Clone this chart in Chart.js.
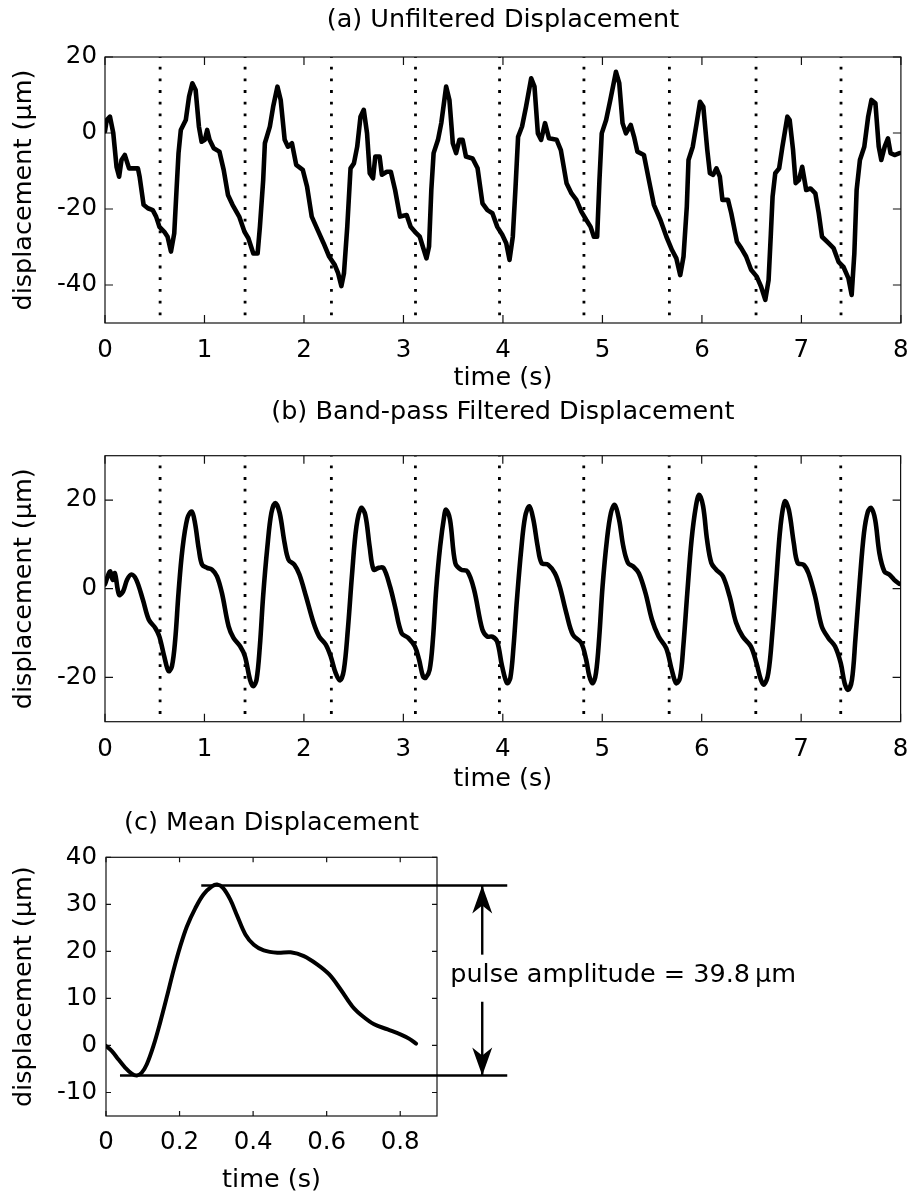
<!DOCTYPE html>
<html>
<head>
<meta charset="utf-8">
<script src="https://cdn.jsdelivr.net/npm/chart.js@4.4.1/dist/chart.umd.min.js"></script>
<style>
  html, body { margin: 0; padding: 0; background: #fff; }
  #page { position: relative; width: 922px; height: 1198px; }
  canvas { position: absolute; left: 0; }
</style>
</head>
<body>
<div id="page">
  <canvas id="chartA" width="922" height="395" style="top:0px"></canvas>
  <canvas id="chartB" width="922" height="400" style="top:395px"></canvas>
  <canvas id="chartC" width="922" height="403" style="top:795px"></canvas>
</div>
<script>
// (a) unfiltered displacement
const timeA = [0.0, 0.017, 0.05, 0.083, 0.116, 0.142, 0.166, 0.199, 0.242, 0.265, 0.331, 0.348, 0.388, 0.431, 0.48, 0.514, 0.547, 0.596, 0.629, 0.663,
  0.696, 0.719, 0.739, 0.762, 0.812, 0.845, 0.878, 0.911, 0.944, 0.971, 1.004, 1.027, 1.051, 1.093, 1.15, 1.193, 1.236, 1.282, 1.349, 1.402,
  1.441, 1.491, 1.534, 1.557, 1.59, 1.607, 1.657, 1.69, 1.733, 1.766, 1.806, 1.839, 1.879, 1.922, 1.988, 2.031, 2.078, 2.137, 2.197, 2.253,
  2.309, 2.343, 2.376, 2.402, 2.435, 2.468, 2.502, 2.535, 2.568, 2.601, 2.634, 2.661, 2.694, 2.717, 2.76, 2.783, 2.833, 2.873, 2.916, 2.965,
  3.032, 3.072, 3.115, 3.164, 3.231, 3.257, 3.28, 3.303, 3.347, 3.38, 3.429, 3.462, 3.496, 3.529, 3.562, 3.595, 3.628, 3.695, 3.745, 3.794,
  3.844, 3.894, 3.943, 3.993, 4.033, 4.066, 4.099, 4.125, 4.152, 4.192, 4.232, 4.284, 4.317, 4.351, 4.384, 4.423, 4.463, 4.54, 4.582, 4.639,
  4.689, 4.738, 4.788, 4.838, 4.881, 4.914, 4.947, 4.97, 4.993, 5.037, 5.079, 5.136, 5.169, 5.202, 5.236, 5.285, 5.318, 5.351, 5.417, 5.467,
  5.517, 5.583, 5.643, 5.699, 5.743, 5.782, 5.815, 5.848, 5.865, 5.908, 5.947, 5.981, 6.014, 6.054, 6.08, 6.113, 6.146, 6.18, 6.206, 6.262,
  6.295, 6.352, 6.395, 6.444, 6.494, 6.551, 6.594, 6.637, 6.67, 6.693, 6.71, 6.737, 6.776, 6.809, 6.859, 6.882, 6.916, 6.942, 6.975, 7.008,
  7.048, 7.091, 7.14, 7.174, 7.207, 7.273, 7.323, 7.373, 7.422, 7.472, 7.505, 7.532, 7.555, 7.588, 7.632, 7.671, 7.704, 7.744, 7.777, 7.803,
  7.837, 7.87, 7.896, 7.936, 7.986];
const dispA = [0.5, 3.4, 4.3, 0, -8.9, -11.5, -7.1, -5.8, -9.3, -9.3, -9.3, -11.5, -18.9, -19.8, -20.3, -22, -24.7, -26, -27.3, -31.2,
  -26.4, -15, -5.3, 0.8, 3.4, 9.6, 13.1, 11.3, 1.7, -2.3, -1.8, 0.8, -1.8, -4, -4.9, -9.7, -16.3, -18.9, -22, -26,
  -27.7, -31.7, -31.7, -24.7, -12.4, -2.7, 1.7, 6.9, 12.2, 8.7, -1.8, -3.6, -2.7, -8.4, -9.7, -14.1, -22, -25.5, -29, -32.5,
  -34.7, -36.9, -40.3, -36.9, -24.7, -9.3, -8, -3.6, 4.3, 6.1, -0.1, -10.6, -11.9, -6.2, -6.2, -11, -10.2, -10.2, -15, -22,
  -21.6, -24.7, -26, -27.3, -33, -29.9, -15, -5.3, -1.8, 2.6, 12.2, 8.7, -2.7, -5.3, -1.8, -1.8, -6.2, -6.7, -9.3, -18.5,
  -20.3, -21.1, -24.7, -26.8, -29, -33.4, -27.3, -15, -1, 1.7, 6.9, 14.4, 12.2, -0.1, -1.8, 2.6, -1.4, -1.8, -4.5, -13.2,
  -15.9, -17.6, -20.7, -22.9, -24.7, -27.3, -27.3, -12.4, -0.1, 3.4, 8.7, 16.1, 13.1, 2.6, -0.1, 2.1, -1, -4.9, -5.8, -12.4,
  -18.9, -22.9, -27.3, -30.8, -33, -37.4, -32.5, -19.4, -7.1, -3.6, 2.6, 8.2, 6.9, -4.5, -10.6, -11, -9.3, -11.5, -17.6, -17.6,
  -21.1, -28.6, -30.3, -32.5, -36, -37.8, -40.4, -43.9, -38.7, -26.4, -16.8, -10.6, -9.3, -3.6, 4.3, 3.4, -4.5, -13.2, -12.4, -8.9,
  -15, -14.6, -15.9, -21.1, -27.3, -29, -30.3, -33.9, -35.2, -38.2, -42.6, -31.7, -15, -7.1, -3.6, 4.3, 8.7, 7.8, -3.6, -7.1,
  -3.6, -1.4, -5.3, -5.8, -5.3];

// (b) band-pass filtered displacement
const timeB = [0.0, 0.05, 0.076, 0.099, 0.142, 0.182, 0.222, 0.265, 0.315, 0.381, 0.441, 0.507, 0.547, 0.596, 0.639, 0.673, 0.706, 0.739, 0.778, 0.828,
  0.872, 0.905, 0.944, 0.977, 1.027, 1.077, 1.126, 1.176, 1.243, 1.292, 1.359, 1.408, 1.458, 1.491, 1.524, 1.557, 1.59, 1.633, 1.673, 1.713,
  1.756, 1.806, 1.846, 1.905, 1.955, 2.021, 2.097, 2.154, 2.22, 2.27, 2.319, 2.363, 2.402, 2.442, 2.485, 2.528, 2.575, 2.617, 2.661, 2.701,
  2.751, 2.8, 2.866, 2.916, 2.982, 3.049, 3.115, 3.158, 3.198, 3.224, 3.264, 3.297, 3.33, 3.37, 3.413, 3.429, 3.469, 3.522, 3.579, 3.645,
  3.711, 3.794, 3.844, 3.894, 3.943, 3.993, 4.043, 4.076, 4.108, 4.142, 4.185, 4.225, 4.267, 4.307, 4.351, 4.39, 4.456, 4.523, 4.572, 4.639,
  4.705, 4.788, 4.838, 4.871, 4.904, 4.937, 4.97, 5.003, 5.047, 5.087, 5.126, 5.169, 5.212, 5.259, 5.312, 5.368, 5.435, 5.5, 5.567, 5.643,
  5.699, 5.743, 5.782, 5.815, 5.855, 5.898, 5.942, 5.974, 6.014, 6.054, 6.097, 6.146, 6.213, 6.28, 6.346, 6.412, 6.494, 6.551, 6.594, 6.627,
  6.67, 6.71, 6.75, 6.792, 6.836, 6.876, 6.926, 6.965, 7.025, 7.074, 7.14, 7.207, 7.273, 7.34, 7.398, 7.437, 7.472, 7.511, 7.545, 7.588,
  7.632, 7.671, 7.704, 7.744, 7.787, 7.837, 7.886, 7.936, 7.986];
const dispB = [1.0, 3.9, 2, 3.5, -1.4, -0.6, 2, 3.2, 2, -2.5, -7, -8.9, -10.8, -15.3, -18.6, -17.5, -11.5, -1, 8.8, 15.9,
  17.4, 14.8, 8.8, 5.4, 4.7, 4.3, 2.8, -1, -8.5, -11.1, -13, -15.3, -20.5, -22, -20.5, -13, -1.7, 9.5, 17.1, 19.3,
  17.1, 10.3, 6.5, 5.4, 3.2, -1.7, -7.7, -10.8, -12.6, -15.3, -19, -20.7, -18.3, -9.2, 3.5, 14, 18.2, 16.7, 9.5, 4.3,
  4.7, 4.7, 0.5, -4, -10, -11.1, -13, -16, -19.8, -20.1, -18.3, -11.5, -0.2, 9.5, 16.7, 17.8, 15.6, 5.8, 4.3, 3.9,
  -0.2, -9.2, -10.8, -10.8, -11.9, -17.5, -21.3, -20.1, -13, -2.5, 8.8, 16.3, 18.6, 15.6, 9.5, 5.8, 5.4, 3.5, 0.5, -5.5,
  -10.4, -12.2, -16, -19.8, -21.3, -19, -10.8, 0.5, 11, 17.1, 18.9, 15.6, 9.5, 5.8, 5, 3.5, -1, -7, -10.8, -13.4,
  -18.3, -21.3, -20.1, -13, -1, 11, 18.6, 21.2, 18.6, 11, 5.8, 4.3, 2.8, -1.7, -7.7, -10.8, -13, -16.8, -20.5, -21.6,
  -19, -10, 2, 14, 19.7, 17.8, 10.3, 5.8, 5.4, 3.5, -1.7, -8.5, -11.1, -13, -16.8, -21.3, -22.8, -20.5, -11.5, 1.3,
  12.6, 17.4, 18.2, 15.6, 8, 3.9, 3.2, 2, 1.1];

// dotted pulse markers (s), same in (a) and (b)
const markerTimes = [0.554, 1.408, 2.276, 3.121, 3.966, 4.814, 5.673, 6.544, 7.398];

// (c) mean displacement
const timeC = [0.0, 0.016, 0.034, 0.052, 0.07, 0.084, 0.097, 0.111, 0.129, 0.147, 0.166, 0.184, 0.202, 0.22, 0.243, 0.265, 0.288, 0.302, 0.318, 0.338,
  0.357, 0.379, 0.402, 0.429, 0.466, 0.502, 0.538, 0.575, 0.607, 0.638, 0.67, 0.698, 0.729, 0.766, 0.802, 0.825, 0.843];
const dispC = [-0.1, -1.2, -3, -4.7, -6, -6.4, -5.8, -4, -0.1, 4.8, 10.5, 16.1, 21.1, 25.3, 29.2, 32.1, 33.8, 34.2, 33.5, 31,
  27.5, 23.6, 21.4, 20.2, 19.7, 19.8, 19, 17.2, 15.1, 11.9, 8.3, 6.2, 4.5, 3.4, 2.3, 1.4, 0.4];

// tick values
const ticksTime = [0, 1, 2, 3, 4, 5, 6, 7, 8];
const ticksAY = [-40, -20, 0, 20];
const ticksBY = [-20, 0, 20];
const ticksCX = [0, 0.2, 0.4, 0.6, 0.8];
const ticksCY = [-10, 0, 10, 20, 30, 40];

// amplitude markers in (c)
const refTopX = [0.259, 1.091];
const refTopY = [34.0, 34.0];
const refBotX = [0.038, 1.091];
const refBotY = [-6.4, -6.4];
const arrowT = 1.023;
const arrowUpY = [19.3, 34.0];
const arrowDownY = [9.3, -6.4];
const ampLabel = 'pulse amplitude = 39.8\u2009\u03bcm';
const ampLabelPos = [0.936, 13.4];

const FONT = "'DejaVu Sans', 'Liberation Sans', sans-serif";
const yLabel = 'displacement (\u03bcm)';

function pts(xs, ys) {
  return xs.map((x, i) => ({x: x, y: ys[i]}));
}

// box round the axes with inward ticks on all four sides
const frameTicks = {
  id: 'frameTicks',
  beforeDatasetsDraw(chart, args, opts) {
    const {ctx, chartArea: a, scales: {x, y}} = chart;
    const len = opts.len || 8;
    ctx.save();
    ctx.strokeStyle = '#111';
    ctx.lineWidth = 1.2;
    ctx.strokeRect(a.left, a.top, a.right - a.left, a.bottom - a.top);
    ctx.beginPath();
    x.ticks.forEach(t => {
      const px = x.getPixelForValue(t.value);
      ctx.moveTo(px, a.bottom); ctx.lineTo(px, a.bottom - len);
      ctx.moveTo(px, a.top); ctx.lineTo(px, a.top + len);
    });
    y.ticks.forEach(t => {
      const py = y.getPixelForValue(t.value);
      ctx.moveTo(a.left, py); ctx.lineTo(a.left + len, py);
      ctx.moveTo(a.right, py); ctx.lineTo(a.right - len, py);
    });
    ctx.stroke();
    ctx.restore();
  }
};

// arrow heads and the amplitude label for panel (c)
const ampNotes = {
  id: 'ampNotes',
  afterDatasetsDraw(chart) {
    const {ctx, scales: {x, y}} = chart;
    const ax = x.getPixelForValue(arrowT);
    function head(tipY, dir) {
      ctx.beginPath();
      ctx.moveTo(ax, tipY);
      ctx.lineTo(ax - 10, tipY + dir * 28);
      ctx.lineTo(ax, tipY + dir * 20);
      ctx.lineTo(ax + 10, tipY + dir * 28);
      ctx.closePath();
      ctx.fill();
    }
    ctx.save();
    ctx.fillStyle = '#000';
    head(y.getPixelForValue(arrowUpY[1]), 1);
    head(y.getPixelForValue(arrowDownY[1]), -1);
    ctx.font = '25.5px ' + FONT;
    ctx.textAlign = 'left';
    ctx.textBaseline = 'alphabetic';
    ctx.fillText(ampLabel, x.getPixelForValue(ampLabelPos[0]), y.getPixelForValue(ampLabelPos[1]));
    ctx.restore();
  }
};

function markerSets(yMin, yMax) {
  return markerTimes.map(t => ({
    data: [{x: t, y: yMax}, {x: t, y: yMin}],
    borderColor: '#000',
    borderWidth: 2.8,
    borderDash: [2.8, 8.9],
    borderDashOffset: 2,
    pointRadius: 0,
    order: 2
  }));
}

function makeChart(id, cfg) {
  return new Chart(document.getElementById(id), {
    type: 'line',
    data: {datasets: cfg.datasets},
    plugins: cfg.plugins,
    options: {
      responsive: false,
      animation: false,
      devicePixelRatio: 1,
      layout: {padding: {left: 0, right: cfg.padRight, top: 0, bottom: 0}},
      plugins: {
        legend: {display: false},
        tooltip: {enabled: false},
        title: {
          display: true,
          text: cfg.title,
          fullSize: false,
          color: '#000',
          font: {family: FONT, size: 25.5, weight: 'normal', lineHeight: 1.2},
          padding: {top: cfg.titleTop, bottom: cfg.titleBottom}
        },
        frameTicks: {len: cfg.tickLen}
      },
      scales: {
        x: {
          type: 'linear',
          min: cfg.xMin, max: cfg.xMax,
          grid: {display: false, drawTicks: false},
          border: {display: false},
          ticks: {color: '#000', padding: cfg.xTickPad,
            font: {family: FONT, size: 24.5, lineHeight: 1.2}},
          afterBuildTicks: s => { s.ticks = cfg.xTicks.map(v => ({value: v})); },
          title: {display: true, text: 'time (s)', color: '#000',
            font: {family: FONT, size: 25.5, lineHeight: 1.2}, padding: {top: 0, bottom: cfg.xTitlePad}},
          afterFit: s => { s.height = cfg.xHeight; }
        },
        y: {
          type: 'linear',
          min: cfg.yMin, max: cfg.yMax,
          grid: {display: false, drawTicks: false},
          border: {display: false},
          ticks: {color: '#000', padding: cfg.yTickPad,
            font: {family: FONT, size: 24.5, lineHeight: 1.2}},
          afterBuildTicks: s => { s.ticks = cfg.yTicks.map(v => ({value: v})); },
          title: {display: true, text: yLabel, color: '#000',
            font: {family: FONT, size: 25.5, lineHeight: 1.2}, padding: {top: 9.5, bottom: 0}},
          afterFit: s => { s.width = cfg.yWidth; }
        }
      }
    }
  });
}

makeChart('chartA', {
  title: '(a) Unfiltered Displacement',
  titleTop: 4.7, titleBottom: 21.7,
  padRight: 12, xHeight: 72, xTickPad: 13.3, xTitlePad: 1.7, yWidth: 105, yTickPad: 8,
  xMin: 0, xMax: 8, xTicks: ticksTime, yMin: -50, yMax: 20, yTicks: ticksAY, tickLen: 8,
  plugins: [frameTicks],
  datasets: [{
    data: pts(timeA, dispA),
    borderColor: '#000', borderWidth: 4.6, pointRadius: 0, tension: 0,
    borderJoinStyle: 'round', borderCapStyle: 'round', order: 1
  }].concat(markerSets(-50, 20))
});

makeChart('chartB', {
  title: '(b) Band-pass Filtered Displacement',
  titleTop: 1.7, titleBottom: 28.4,
  padRight: 12, xHeight: 73.3, xTickPad: 13.6, xTitlePad: 0, yWidth: 105, yTickPad: 8,
  xMin: 0, xMax: 8, xTicks: ticksTime, yMin: -30, yMax: 30, yTicks: ticksBY, tickLen: 8,
  plugins: [frameTicks],
  datasets: [{
    data: pts(timeB, dispB),
    borderColor: '#000', borderWidth: 4.6, pointRadius: 0, tension: 0.35,
    borderJoinStyle: 'round', borderCapStyle: 'round', order: 1
  }].concat(markerSets(-30, 30))
});

makeChart('chartC', {
  title: '(c) Mean Displacement',
  titleTop: 12.7, titleBottom: 19,
  padRight: 485, xHeight: 82, xTickPad: 12.3, xTitlePad: 2.7, yWidth: 106, yTickPad: 9,
  xMin: 0, xMax: 0.9, xTicks: ticksCX, yMin: -15, yMax: 40, yTicks: ticksCY, tickLen: 5,
  plugins: [frameTicks, ampNotes],
  datasets: [
    {data: pts(timeC, dispC), borderColor: '#000', borderWidth: 4, pointRadius: 0, tension: 0.35, borderCapStyle: 'round'},
    {data: pts(refTopX, refTopY), borderColor: '#000', borderWidth: 2.4, pointRadius: 0, clip: false},
    {data: pts(refBotX, refBotY), borderColor: '#000', borderWidth: 2.4, pointRadius: 0, clip: false},
    {data: pts([arrowT, arrowT], arrowUpY), borderColor: '#000', borderWidth: 2.4, pointRadius: 0, clip: false},
    {data: pts([arrowT, arrowT], arrowDownY), borderColor: '#000', borderWidth: 2.4, pointRadius: 0, clip: false}
  ]
});
</script>
</body>
</html>
